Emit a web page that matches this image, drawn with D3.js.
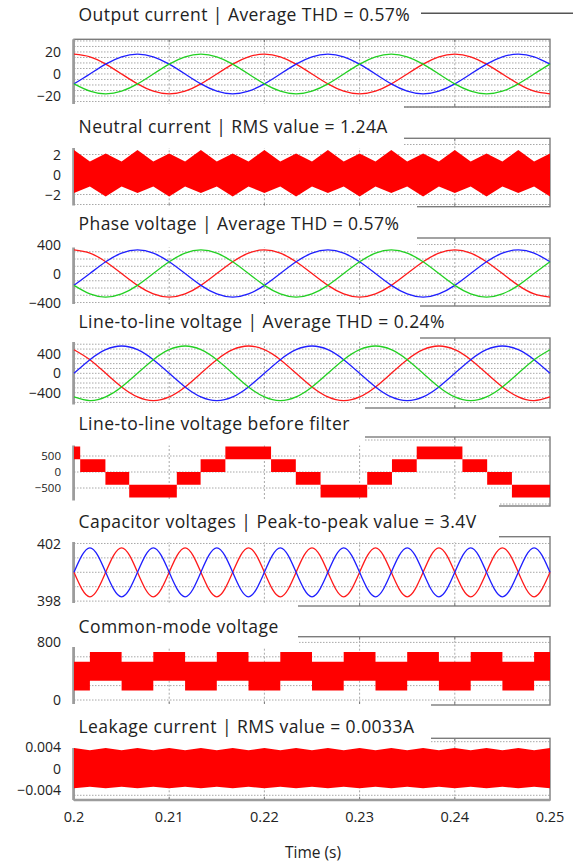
<!DOCTYPE html>
<html>
<head>
<meta charset="utf-8">
<script src="https://cdn.jsdelivr.net/npm/d3@7"></script>
<style>
  body { margin: 0; background: #fff; }
  svg { display: block; font-family: "Open Sans", sans-serif; }
</style>
</head>
<body>
<svg id="scope" width="573" height="865"></svg>
<script>
/* data */
var sampleTimes = [0.2, 0.20167, 0.20333, 0.205, 0.20667, 0.20833, 0.21, 0.21167, 0.21333, 0.215,
  0.21667, 0.21833, 0.22, 0.22167, 0.22333, 0.225, 0.22667, 0.22833, 0.23, 0.23167,
  0.23333, 0.235, 0.23667, 0.23833, 0.24, 0.24167, 0.24333, 0.245, 0.24667, 0.24833, 0.25];

var currentA = [18, 15.6, 9, 0, -9, -15.6, -18, -15.6, -9, 0, 9, 15.6, 18, 15.6, 9, 0, -9, -15.6, -18, -15.6, -9, 0, 9, 15.6, 18, 15.6, 9, 0, -9, -15.6, -18];
var currentB = [-9, 0, 9, 15.6, 18, 15.6, 9, 0, -9, -15.6, -18, -15.6, -9, 0, 9, 15.6, 18, 15.6, 9, 0, -9, -15.6, -18, -15.6, -9, 0, 9, 15.6, 18, 15.6, 9];
var currentC = [-9, -15.6, -18, -15.6, -9, 0, 9, 15.6, 18, 15.6, 9, 0, -9, -15.6, -18, -15.6, -9, 0, 9, 15.6, 18, 15.6, 9, 0, -9, -15.6, -18, -15.6, -9, 0, 9];

var neutralTop    = [2.45, 1.3, 2.1, 1.3, 2.45, 1.3, 2.1, 1.3, 2.45, 1.3, 2.1, 1.3, 2.45, 1.3, 2.1, 1.3, 2.45, 1.3, 2.1, 1.3, 2.45, 1.3, 2.1, 1.3, 2.45, 1.3, 2.1, 1.3, 2.45, 1.3, 2.1];
var neutralBottom = [-1.85, -1.2, -2.2, -1.2, -1.85, -1.2, -2.2, -1.2, -1.85, -1.2, -2.2, -1.2, -1.85, -1.2, -2.2, -1.2, -1.85, -1.2, -2.2, -1.2, -1.85, -1.2, -2.2, -1.2, -1.85, -1.2, -2.2, -1.2, -1.85, -1.2, -2.2];

var phaseA = [325, 281, 163, 0, -163, -281, -325, -281, -163, 0, 163, 281, 325, 281, 163, 0, -163, -281, -325, -281, -163, 0, 163, 281, 325, 281, 163, 0, -163, -281, -325];
var phaseB = [-163, 0, 163, 281, 325, 281, 163, 0, -163, -281, -325, -281, -163, 0, 163, 281, 325, 281, 163, 0, -163, -281, -325, -281, -163, 0, 163, 281, 325, 281, 163];
var phaseC = [-163, -281, -325, -281, -163, 0, 163, 281, 325, 281, 163, 0, -163, -281, -325, -281, -163, 0, 163, 281, 325, 281, 163, 0, -163, -281, -325, -281, -163, 0, 163];

var lineAB = [487, 281, 0, -281, -487, -563, -487, -281, 0, 281, 487, 563, 487, 281, 0, -281, -487, -563, -487, -281, 0, 281, 487, 563, 487, 281, 0, -281, -487, -563, -487];
var lineBC = [0, 281, 487, 563, 487, 281, 0, -281, -487, -563, -487, -281, 0, 281, 487, 563, 487, 281, 0, -281, -487, -563, -487, -281, 0, 281, 487, 563, 487, 281, 0];
var lineCA = [-487, -563, -487, -281, 0, 281, 487, 563, 487, 281, 0, -281, -487, -563, -487, -281, 0, 281, 487, 563, 487, 281, 0, -281, -487, -563, -487, -281, 0, 281, 487];

var filterEdges = [0.2, 0.20065, 0.2033, 0.2058, 0.2108, 0.2133, 0.2159, 0.2207, 0.2233, 0.2259, 0.2308, 0.2334, 0.236, 0.2408, 0.2434, 0.246, 0.25];
var filterLow   = [400, 0, -400, -800, -400, 0, 400, 0, -400, -800, -400, 0, 400, 0, -400, -800];
var filterHigh  = [800, 400, 0, -400, 0, 400, 800, 400, 0, -400, 0, 400, 800, 400, 0, -400];

var capUpper = [400, 401.7, 400, 398.3, 400, 401.7, 400, 398.3, 400, 401.7, 400, 398.3, 400, 401.7, 400, 398.3, 400, 401.7, 400, 398.3, 400, 401.7, 400, 398.3, 400, 401.7, 400, 398.3, 400, 401.7, 400];
var capLower = [400, 398.3, 400, 401.7, 400, 398.3, 400, 401.7, 400, 398.3, 400, 401.7, 400, 398.3, 400, 401.7, 400, 398.3, 400, 401.7, 400, 398.3, 400, 401.7, 400, 398.3, 400, 401.7, 400, 398.3, 400];

var cmEdges = [0.2, 0.20167, 0.205, 0.20833, 0.21167, 0.215, 0.21833, 0.22167, 0.225, 0.22833, 0.23167, 0.235, 0.23833, 0.24167, 0.245, 0.24833, 0.25];
var cmLow   = [133, 267, 133, 267, 133, 267, 133, 267, 133, 267, 133, 267, 133, 267, 133, 267];
var cmHigh  = [533, 667, 533, 667, 533, 667, 533, 667, 533, 667, 533, 667, 533, 667, 533, 667];

var leakTop    = [0.0038, 0.0034, 0.0038, 0.0034, 0.0038, 0.0034, 0.0038, 0.0034, 0.0038, 0.0034, 0.0038, 0.0034, 0.0038, 0.0034, 0.0038, 0.0034, 0.0038, 0.0034, 0.0038, 0.0034, 0.0038, 0.0034, 0.0038, 0.0034, 0.0038, 0.0034, 0.0038, 0.0034, 0.0038, 0.0034, 0.0038];
var leakBottom = [-0.0037, -0.0034, -0.0037, -0.0034, -0.0037, -0.0034, -0.0037, -0.0034, -0.0037, -0.0034, -0.0037, -0.0034, -0.0037, -0.0034, -0.0037, -0.0034, -0.0037, -0.0034, -0.0037, -0.0034, -0.0037, -0.0034, -0.0037, -0.0034, -0.0037, -0.0034, -0.0037, -0.0034, -0.0037, -0.0034, -0.0037];

var timeTicks = [0.2, 0.21, 0.22, 0.23, 0.24, 0.25];
var ticksCurrent = [20, 0, -20];
var ticksNeutral = [2, 0, -2];
var ticksPhase   = [400, 0, -400];
var ticksLine    = [400, 0, -400];
var ticksFilter  = [500, 0, -500];
var ticksCap     = [402, 398];
var ticksCm      = [800, 0];
var ticksLeak    = [0.004, 0, -0.004];

var titles = [
  "Output current | Average THD = 0.57%",
  "Neutral current | RMS value = 1.24A",
  "Phase voltage | Average THD = 0.57%",
  "Line-to-line voltage | Average THD = 0.24%",
  "Line-to-line voltage before filter",
  "Capacitor voltages | Peak-to-peak value = 3.4V",
  "Common-mode voltage",
  "Leakage current | RMS value = 0.0033A"
];

/* layout */
var svg = d3.select("#scope");
var plotLeft = 74, plotRight = 550;
var x = d3.scaleLinear().domain([0.2, 0.25]).range([plotLeft, plotRight]);
var gridTimes = [0.21, 0.22, 0.23, 0.24];

var layout = [
  {top: 39.3,  bottom: 107,   domain: [-30, 31.5],        grid: d3.range(-30, 31, 5),     ticks: ticksCurrent, tickSize: 14, titleY: 15,    cover: null},
  {top: 138.3, bottom: 206.7, domain: [-3.22, 3.62],      grid: d3.range(-3, 3.5, 1),     ticks: ticksNeutral, tickSize: 14, titleY: 126.7, cover: {x: 404, y0: 104,   y1: 148}},
  {top: 238,   bottom: 306,   domain: [-448, 490],        grid: d3.range(-400, 401, 100), ticks: ticksPhase,   tickSize: 14, titleY: 224,   cover: {x: 417, y0: 205.5, y1: 247.5}},
  {top: 338,   bottom: 408,   domain: [-715, 728],        grid: d3.range(-600, 601, 100), ticks: ticksLine,    tickSize: 14, titleY: 321.7, cover: {x: 420, y0: 304,   y1: 342}},
  {top: 437,   bottom: 506,   domain: [-1062, 1094],      grid: [-1000, -500, 0, 500, 1000], ticks: ticksFilter, tickSize: 11.5, titleY: 424, cover: {x: 365, y0: 404.5, y1: 445.5}},
  {top: 536.7, bottom: 606,   domain: [397.66, 402.47],   grid: [398, 399, 400, 401, 402], ticks: ticksCap,    tickSize: 14, titleY: 521.7, cover: {x: 499, y0: 500.5, y1: 542}},
  {top: 636.7, bottom: 705,   domain: [-69, 879],         grid: [0, 200, 400, 600, 800],  ticks: ticksCm,      tickSize: 14, titleY: 626.7, cover: {x: 298, y0: 603,   y1: 647}},
  {top: 738.3, bottom: 800,   domain: [-0.00588, 0.00563], grid: [-0.005, 0, 0.005],     ticks: ticksLeak,    tickSize: 14, titleY: 726.7, cover: {x: 431, y0: 704,   y1: 748}}
];

layout.forEach(function(p) {
  p.y = d3.scaleLinear().domain(p.domain).range([p.bottom, p.top]);
});

function fmt(v) {
  return v < 0 ? "\u2212" + Math.abs(v) : String(v);
}

/* frames and grids */
var back = svg.append("g");
layout.forEach(function(p, i) {
  var g = back.append("g");
  p.grid.forEach(function(v) {
    g.append("line")
      .attr("x1", plotLeft).attr("x2", plotRight)
      .attr("y1", p.y(v)).attr("y2", p.y(v))
      .style("stroke", "#a8a8a8").style("stroke-width", 1)
      .style("stroke-dasharray", "1.5,1.5");
  });
  gridTimes.forEach(function(t) {
    g.append("line")
      .attr("x1", x(t)).attr("x2", x(t))
      .attr("y1", p.top).attr("y2", p.bottom)
      .style("stroke", "#a8a8a8").style("stroke-width", 1)
      .style("stroke-dasharray", "2,2");
    g.append("line")
      .attr("x1", x(t)).attr("x2", x(t))
      .attr("y1", p.top).attr("y2", p.top + 3)
      .style("stroke", "#777");
    g.append("line")
      .attr("x1", x(t)).attr("x2", x(t))
      .attr("y1", p.bottom).attr("y2", p.bottom - 3)
      .style("stroke", "#777");
  });
  g.append("rect")
    .attr("x", plotLeft).attr("y", p.top)
    .attr("width", plotRight - plotLeft).attr("height", p.bottom - p.top)
    .style("fill", "none").style("stroke", "#7c7c7c").style("stroke-width", 1.4);
  g.append("line")
    .attr("x1", plotLeft - 0.5).attr("x2", plotLeft - 0.5)
    .attr("y1", p.top).attr("y2", p.bottom)
    .style("stroke", "#9c9c9c").style("stroke-width", 2.6);
});

// bottom axis line of the last scope
back.append("line")
  .attr("x1", plotLeft).attr("x2", plotRight)
  .attr("y1", 800).attr("y2", 800)
  .style("stroke", "#9c9c9c").style("stroke-width", 2.6);

// white panels behind the titles hide part of the frames
layout.forEach(function(p) {
  if (!p.cover) return;
  back.append("rect")
    .attr("x", 0).attr("y", p.cover.y0)
    .attr("width", p.cover.x).attr("height", p.cover.y1 - p.cover.y0)
    .style("fill", "#fff");
});

back.append("line")
  .attr("x1", 421).attr("x2", 573)
  .attr("y1", 13.3).attr("y2", 13.3)
  .style("stroke", "#555").style("stroke-width", 1.4);

/* traces */
var red = "#ff1a1a", blue = "#1f1fff", green = "#22d022";

function drawLines(p, series) {
  var line = d3.line()
    .x(function(d, i) { return x(sampleTimes[i]); })
    .y(function(d) { return p.y(d); })
    .curve(d3.curveNatural);
  series.forEach(function(s) {
    svg.append("path")
      .datum(s.values)
      .attr("d", line)
      .style("fill", "none")
      .style("stroke", s.color)
      .style("stroke-width", 1.3);
  });
}

function drawBand(p, top, bottom) {
  var area = d3.area()
    .x(function(d, i) { return x(sampleTimes[i]); })
    .y0(function(d, i) { return p.y(bottom[i]); })
    .y1(function(d) { return p.y(d); });
  svg.append("path")
    .datum(top)
    .attr("d", area)
    .style("fill", "#ff0000");
}

function drawSteps(p, edges, low, high) {
  var rows = edges.map(function(t, i) {
    var k = Math.min(i, low.length - 1);
    return {t: t, lo: low[k], hi: high[k]};
  });
  var area = d3.area()
    .x(function(d) { return x(d.t); })
    .y0(function(d) { return p.y(d.lo); })
    .y1(function(d) { return p.y(d.hi); })
    .curve(d3.curveStepAfter);
  svg.append("path")
    .datum(rows)
    .attr("d", area)
    .style("fill", "#ff0000");
}

drawLines(layout[0], [{values: currentA, color: red}, {values: currentB, color: blue}, {values: currentC, color: green}]);
drawBand(layout[1], neutralTop, neutralBottom);
drawLines(layout[2], [{values: phaseA, color: red}, {values: phaseB, color: blue}, {values: phaseC, color: green}]);
drawLines(layout[3], [{values: lineAB, color: red}, {values: lineBC, color: blue}, {values: lineCA, color: green}]);
drawSteps(layout[4], filterEdges, filterLow, filterHigh);
drawLines(layout[5], [{values: capLower, color: red}, {values: capUpper, color: blue}]);
drawSteps(layout[6], cmEdges, cmLow, cmHigh);
drawBand(layout[7], leakTop, leakBottom);

/* texts */
layout.forEach(function(p, i) {
  svg.append("text")
    .attr("x", 78.5)
    .attr("y", p.titleY + 6)
    .style("font-size", "17.5px")
    .style("letter-spacing", "0.45px")
    .style("fill", "#222")
    .text(titles[i]);

  p.ticks.forEach(function(v) {
    svg.append("text")
      .attr("x", 61)
      .attr("y", p.y(v))
      .attr("dy", "0.36em")
      .style("font-size", p.tickSize + "px")
      .style("fill", "#222")
      .style("text-anchor", "end")
      .text(fmt(v));
  });
});

timeTicks.forEach(function(t) {
  svg.append("text")
    .attr("x", x(t))
    .attr("y", 817)
    .attr("dy", "0.36em")
    .style("font-size", "14.5px")
    .style("fill", "#222")
    .style("text-anchor", "middle")
    .text(String(t));
});

svg.append("text")
  .attr("x", 313)
  .attr("y", 852)
  .attr("dy", "0.36em")
  .style("font-size", "15.5px")
  .style("fill", "#222")
  .style("text-anchor", "middle")
  .text("Time (s)");
</script>
</body>
</html>
